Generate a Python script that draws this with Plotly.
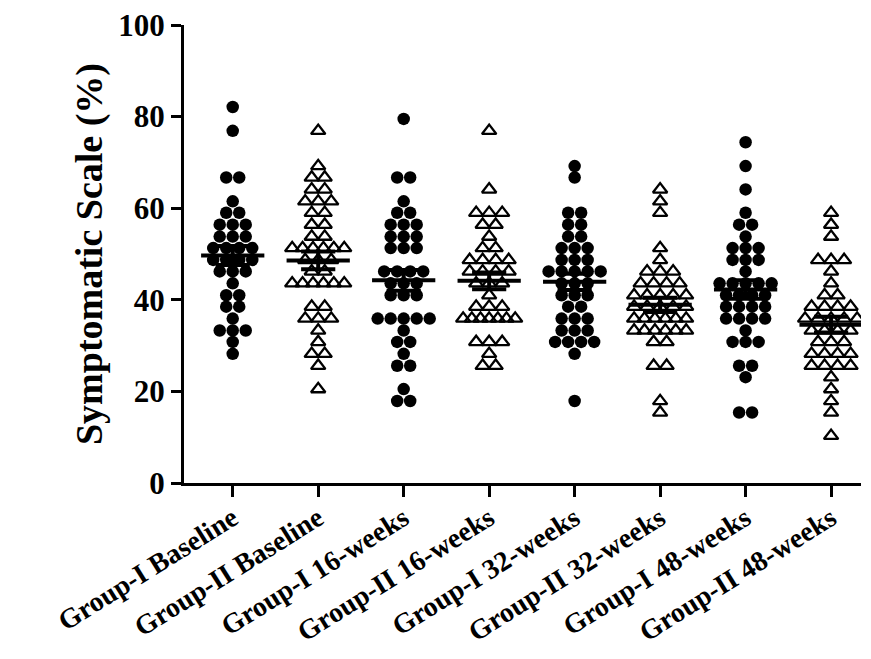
import numpy as np
import plotly.graph_objects as go
from collections import Counter

categories = ["Group-I Baseline", "Group-II Baseline", "Group-I 16-weeks", "Group-II 16-weeks",
              "Group-I 32-weeks", "Group-II 32-weeks", "Group-I 48-weeks", "Group-II 48-weeks"]

g1_baseline = [82.1, 76.9, 66.7, 66.7, 61.5, 59.0, 59.0, 56.4, 56.4, 56.4, 53.8, 53.8, 53.8,
               51.3, 51.3, 51.3, 51.3, 48.7, 48.7, 48.7, 48.7, 46.2, 46.2, 46.2, 43.6, 41.0, 41.0,
               38.5, 38.5, 35.9, 33.3, 33.3, 33.3, 30.8, 28.2]
g2_baseline = [76.9, 69.2, 66.7, 66.7, 64.1, 64.1, 61.5, 61.5, 61.5, 59.0, 59.0, 56.4, 56.4,
               53.8, 53.8, 51.3, 51.3, 51.3, 51.3, 51.3, 51.3, 48.7, 48.7, 48.7, 46.2, 46.2,
               43.6, 43.6, 43.6, 43.6, 43.6, 43.6, 38.5, 38.5, 35.9, 35.9, 35.9, 33.3, 30.8,
               28.2, 28.2, 25.6, 20.5]
g1_16w = [79.5, 66.7, 66.7, 61.5, 59.0, 59.0, 56.4, 56.4, 56.4, 53.8, 53.8, 53.8, 51.3, 51.3,
          51.3, 46.2, 46.2, 46.2, 46.2, 43.6, 43.6, 43.6, 41.0, 41.0, 41.0, 35.9, 35.9, 35.9,
          35.9, 35.9, 33.3, 30.8, 30.8, 28.2, 25.6, 25.6, 20.5, 17.9, 17.9]
g2_16w = [76.9, 64.1, 59.0, 59.0, 59.0, 56.4, 56.4, 53.8, 51.3, 51.3, 48.7, 48.7, 48.7, 48.7,
          46.2, 46.2, 46.2, 46.2, 43.6, 43.6, 43.6, 41.0, 38.5, 38.5, 38.5, 35.9, 35.9, 35.9,
          35.9, 35.9, 35.9, 35.9, 30.8, 30.8, 30.8, 28.2, 25.6, 25.6]
g1_32w = [69.2, 66.7, 59.0, 59.0, 56.4, 56.4, 53.8, 53.8, 51.3, 51.3, 51.3, 48.7, 48.7, 48.7,
          46.2, 46.2, 46.2, 46.2, 46.2, 43.6, 43.6, 43.6, 41.0, 41.0, 41.0, 38.5, 38.5, 35.9,
          35.9, 35.9, 33.3, 33.3, 33.3, 30.8, 30.8, 30.8, 30.8, 28.2, 17.9]
g2_32w = [64.1, 61.5, 59.0, 51.3, 48.7, 46.2, 46.2, 46.2, 43.6, 43.6, 43.6, 43.6, 41.0, 41.0,
          41.0, 41.0, 41.0, 38.5, 38.5, 38.5, 38.5, 38.5, 35.9, 35.9, 35.9, 35.9, 35.9, 35.9,
          33.3, 33.3, 33.3, 33.3, 33.3, 33.3, 30.8, 30.8, 25.6, 25.6, 17.9, 15.4]
g1_48w = [74.4, 69.2, 64.1, 59.0, 56.4, 56.4, 53.8, 51.3, 51.3, 51.3, 48.7, 48.7, 48.7, 46.2,
          43.6, 43.6, 43.6, 43.6, 43.6, 41.0, 41.0, 41.0, 41.0, 38.5, 38.5, 38.5, 38.5, 35.9,
          35.9, 35.9, 35.9, 33.3, 30.8, 30.8, 30.8, 25.6, 25.6, 23.1, 15.4, 15.4]
g2_48w = [59.0, 56.4, 53.8, 48.7, 48.7, 48.7, 46.2, 43.6, 41.0, 41.0, 38.5, 38.5, 38.5, 38.5,
          35.9, 35.9, 35.9, 35.9, 35.9, 33.3, 33.3, 33.3, 33.3, 30.8, 30.8, 30.8, 28.2, 28.2,
          28.2, 28.2, 25.6, 25.6, 25.6, 25.6, 23.1, 20.5, 17.9, 15.4, 10.3]

groups = [g1_baseline, g2_baseline, g1_16w, g2_16w, g1_32w, g2_32w, g1_48w, g2_48w]
filled = [True, False, True, False, True, False, True, False]

CAT_PX = 85.4  # pixels per category unit (layout)
FONT = "Liberation Serif, Times New Roman, serif"

fig = go.Figure()

for i, vals in enumerate(groups):
    cnt = Counter(vals)
    xs, ys = [], []
    for v in sorted(cnt):
        n = cnt[v]
        step = 13.0 if n <= 4 else min(13.0, 52.0 / (n - 1))
        for j in range(n):
            xs.append(i + (j - (n - 1) / 2) * step / CAT_PX)
            ys.append(v)
    if filled[i]:
        marker = dict(symbol="circle", size=12.5, color="black", line=dict(width=0))
    else:
        marker = dict(symbol="triangle-up-open", size=12.5, color="black",
                      line=dict(width=2.3, color="black"))
    fig.add_trace(go.Scatter(x=xs, y=ys, mode="markers", marker=marker,
                             showlegend=False, hoverinfo="y"))

for i, vals in enumerate(groups):
    a = np.array(vals)
    m = a.mean()
    s = a.std(ddof=1) / np.sqrt(len(a))
    line = dict(color="black", width=4)
    fig.add_trace(go.Scatter(x=[i - 0.37, i + 0.37], y=[m, m], mode="lines", line=line,
                             showlegend=False, hoverinfo="skip"))
    fig.add_trace(go.Scatter(x=[i, i], y=[m - s, m + s], mode="lines", line=line,
                             showlegend=False, hoverinfo="skip"))
    for yy in (m - s, m + s):
        fig.add_trace(go.Scatter(x=[i - 0.2, i + 0.2], y=[yy, yy], mode="lines", line=line,
                                 showlegend=False, hoverinfo="skip"))

# page body adds an 8px margin; figure is sized to fit inside the 871x659 window
fig.update_layout(
    width=863, height=651,
    margin=dict(l=176, r=10, t=17, b=176),
    plot_bgcolor="white", paper_bgcolor="white",
    font=dict(family=FONT, color="black"),
)
fig.update_xaxes(
    automargin=False,
    range=[-0.57, 7.35],
    tickmode="array", tickvals=list(range(len(categories))), ticktext=categories,
    tickangle=-32,
    ticklabeloverflow="allow",
    ticklabelstandoff=-6,
    tickfont=dict(family=FONT, size=28, weight="bold", color="black"),
    showline=True, linecolor="black", linewidth=3,
    ticks="outside", ticklen=11, tickwidth=3, tickcolor="black",
    showgrid=False, zeroline=False,
)
fig.update_yaxes(
    automargin=False,
    range=[0, 100],
    tickvals=[0, 20, 40, 60, 80, 100],
    ticklabeloverflow="allow",
    tickfont=dict(family=FONT, size=31, weight="bold", color="black"),
    showline=True, linecolor="black", linewidth=3,
    ticks="outside", ticklen=10, tickwidth=3, tickcolor="black",
    showgrid=False, zeroline=False,
    title=dict(text="Symptomatic Scale (%)", standoff=4,
               font=dict(family=FONT, size=38, weight="bold", color="black")),
)

fig.write_html("out.html")
